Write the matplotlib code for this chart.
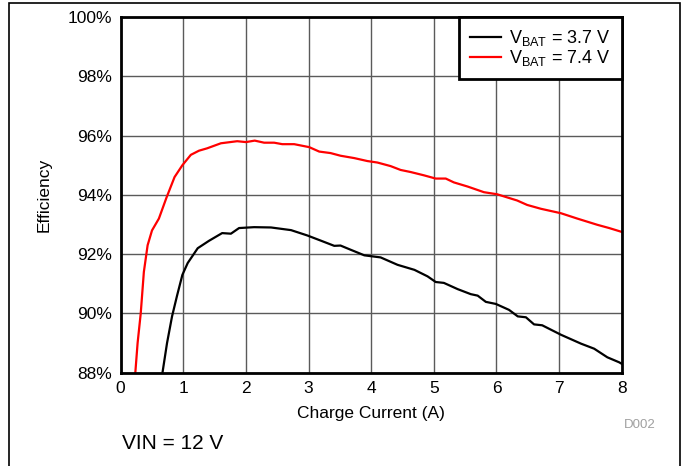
import numpy as np
import matplotlib
matplotlib.use('Agg')
import matplotlib.pyplot as plt
from matplotlib.patches import Rectangle

plt.rcParams['font.family'] = ['Liberation Sans', 'DejaVu Sans']
plt.rcParams['mathtext.fontset'] = 'custom'
plt.rcParams['mathtext.rm'] = 'Liberation Sans'

# charge current (A) and efficiency (%)
i_37 = [0.66, 0.74, 0.82, 0.90, 0.985, 1.07, 1.23, 1.41, 1.62, 1.76, 1.89, 2.13, 2.40, 2.72,
        2.98, 3.19, 3.41, 3.51, 3.67, 3.89, 4.15, 4.42, 4.69, 4.90, 5.03, 5.16, 5.38, 5.59,
        5.70, 5.83, 5.99, 6.20, 6.34, 6.47, 6.60, 6.73, 7.03, 7.35, 7.56, 7.77, 7.96, 8.0]
eff_37 = [87.9, 89.0, 89.9, 90.6, 91.3, 91.7, 92.2, 92.45, 92.71, 92.69, 92.88, 92.91, 92.9, 92.81,
          92.63, 92.46, 92.28, 92.29, 92.15, 91.96, 91.89, 91.64, 91.47, 91.25, 91.06, 91.03, 90.82, 90.65,
          90.6, 90.39, 90.32, 90.12, 89.9, 89.87, 89.63, 89.6, 89.28, 88.98, 88.81, 88.52, 88.35, 88.3]

i_74 = [0.23, 0.27, 0.32, 0.37, 0.43, 0.50, 0.61, 0.73, 0.86, 0.985, 1.12, 1.25, 1.38, 1.60,
        1.86, 2.00, 2.14, 2.29, 2.45, 2.58, 2.77, 3.01, 3.17, 3.35, 3.51, 3.73, 3.94, 4.10,
        4.31, 4.47, 4.63, 4.84, 5.03, 5.19, 5.32, 5.54, 5.80, 6.01, 6.33, 6.49, 6.71, 7.03,
        7.29, 7.61, 7.80, 8.0]
eff_74 = [87.9, 89.0, 90.0, 91.4, 92.3, 92.8, 93.2, 93.9, 94.6, 95.0, 95.35, 95.49, 95.57, 95.74,
          95.81, 95.78, 95.83, 95.76, 95.76, 95.71, 95.71, 95.61, 95.46, 95.41, 95.32, 95.24, 95.14, 95.09,
          94.97, 94.84, 94.77, 94.66, 94.55, 94.55, 94.42, 94.28, 94.09, 94.02, 93.81, 93.66, 93.53, 93.38,
          93.2, 92.99, 92.88, 92.75]

labels = [r'V$_{\mathrm{BAT}}$ = 3.7 V', r'V$_{\mathrm{BAT}}$ = 7.4 V']
x_ticks = np.arange(0, 9, 1)
y_ticks = np.arange(88, 101, 2)

fig = plt.figure(figsize=(6.83, 4.66), dpi=100)
ax = fig.add_axes([0.1767, 0.2002, 0.7336, 0.7633])

ax.plot(i_37, eff_37, color='black', lw=1.6, label=labels[0])
ax.plot(i_74, eff_74, color='#ff0000', lw=1.6, label=labels[1])

ax.set_xlim(0, 8)
ax.set_ylim(88, 100)
ax.set_xticks(x_ticks)
ax.set_yticks(y_ticks)
ax.set_yticklabels(['%d%%' % v for v in y_ticks])
ax.tick_params(length=0, labelsize=12.5, pad=6)
ax.grid(True, color='#5a5a5a', lw=1)
ax.set_axisbelow(True)
for s in ax.spines.values():
    s.set_linewidth(2)

ax.set_xlabel('Charge Current (A)', fontsize=12.5, labelpad=7)
ax.set_ylabel('Efficiency', fontsize=12.5, labelpad=12)

leg = ax.legend(loc='upper right', borderaxespad=0, fontsize=13, fancybox=False,
                framealpha=1, edgecolor='black', handlelength=1.7, handletextpad=0.45,
                labelspacing=0.0, borderpad=0.62)
leg.get_frame().set_linewidth(2)

fig.text(0.937, 0.088, 'D002', color='#a0a0a0', fontsize=9.5, ha='center', va='center')
fig.text(0.178, 0.049, 'VIN = 12 V', fontsize=15, ha='left', va='center')

# outer frame
fig.patches.append(Rectangle((9 / 683, -0.05), 671 / 683, 1.05 - 3 / 466, transform=fig.transFigure,
                             fill=False, edgecolor='black', lw=1.2))

fig.savefig('out.png', dpi=100)
